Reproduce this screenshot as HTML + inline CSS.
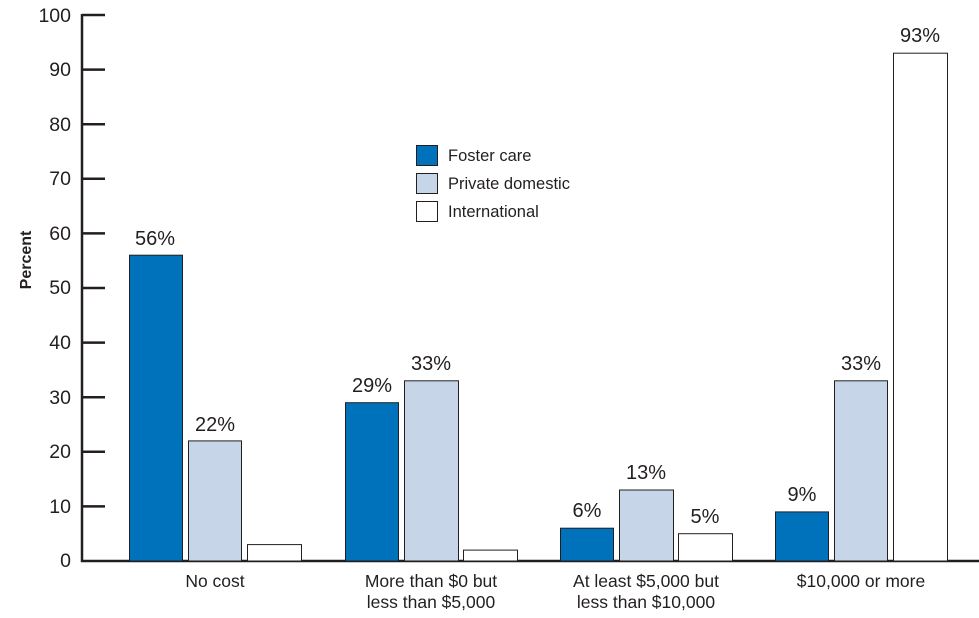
<!DOCTYPE html>
<html><head><style>
body{margin:0;background:#fff;}
text{font-family:"Liberation Sans",sans-serif;fill:#231f20;}
</style></head><body>
<svg width="979" height="613" xmlns="http://www.w3.org/2000/svg">
<g stroke="#231f20" stroke-width="2.5">
<line x1="82" y1="14" x2="82" y2="562"/>
<line x1="81" y1="561" x2="979" y2="561"/>
<line x1="82" y1="15" x2="105" y2="15"/>
<line x1="82" y1="69.6" x2="105" y2="69.6"/>
<line x1="82" y1="124.2" x2="105" y2="124.2"/>
<line x1="82" y1="178.8" x2="105" y2="178.8"/>
<line x1="82" y1="233.4" x2="105" y2="233.4"/>
<line x1="82" y1="288" x2="105" y2="288"/>
<line x1="82" y1="342.6" x2="105" y2="342.6"/>
<line x1="82" y1="397.2" x2="105" y2="397.2"/>
<line x1="82" y1="451.8" x2="105" y2="451.8"/>
<line x1="82" y1="506.4" x2="105" y2="506.4"/>
</g>
<g font-size="19.5" text-anchor="end">
<text x="71" y="22">100</text><text x="71" y="76">90</text><text x="71" y="131">80</text>
<text x="71" y="185">70</text><text x="71" y="240">60</text><text x="71" y="294">50</text>
<text x="71" y="349">40</text><text x="71" y="404">30</text><text x="71" y="458">20</text>
<text x="71" y="513">10</text><text x="71" y="567">0</text>
</g>
<text transform="translate(31,260) rotate(-90)" font-size="16" font-weight="bold" text-anchor="middle">Percent</text>
<g stroke="#231f20" stroke-width="1">
<rect x="129.5" y="255.2" width="53" height="305.8" fill="#0072bc"/>
<rect x="188.5" y="440.9" width="53" height="120.1" fill="#c6d5e8"/>
<rect x="247.5" y="544.6" width="54" height="16.4" fill="#fff"/>
<rect x="345.5" y="402.7" width="53" height="158.3" fill="#0072bc"/>
<rect x="404.5" y="380.8" width="54" height="180.2" fill="#c6d5e8"/>
<rect x="463.5" y="550.1" width="54" height="10.9" fill="#fff"/>
<rect x="560.5" y="528.2" width="53" height="32.8" fill="#0072bc"/>
<rect x="619.5" y="490" width="54" height="71" fill="#c6d5e8"/>
<rect x="678.5" y="533.7" width="54" height="27.3" fill="#fff"/>
<rect x="775.5" y="511.9" width="53" height="49.1" fill="#0072bc"/>
<rect x="834.5" y="380.8" width="53" height="180.2" fill="#c6d5e8"/>
<rect x="893.5" y="53.2" width="54" height="507.8" fill="#fff"/>
</g>
<g font-size="20" text-anchor="middle">
<text x="155" y="245">56%</text><text x="215" y="431">22%</text>
<text x="372" y="392">29%</text><text x="431" y="370">33%</text>
<text x="587" y="517">6%</text><text x="646" y="479">13%</text><text x="705" y="523">5%</text>
<text x="802" y="501">9%</text><text x="861" y="370">33%</text><text x="920" y="42">93%</text>
</g>
<g font-size="17.5" text-anchor="middle">
<text x="215" y="587">No cost</text>
<text x="431" y="587">More than $0 but</text><text x="431" y="608">less than $5,000</text>
<text x="646" y="587">At least $5,000 but</text><text x="646" y="608">less than $10,000</text>
<text x="861" y="587">$10,000 or more</text>
</g>
<g stroke="#231f20" stroke-width="1">
<rect x="416.5" y="145.5" width="21" height="20" fill="#0072bc"/>
<rect x="416.5" y="173.5" width="21" height="20" fill="#c6d5e8"/>
<rect x="416.5" y="201.5" width="21" height="20" fill="#fff"/>
</g>
<g font-size="16.5">
<text x="448" y="161">Foster care</text>
<text x="448" y="189">Private domestic</text>
<text x="448" y="217">International</text>
</g>
</svg>
</body></html>
